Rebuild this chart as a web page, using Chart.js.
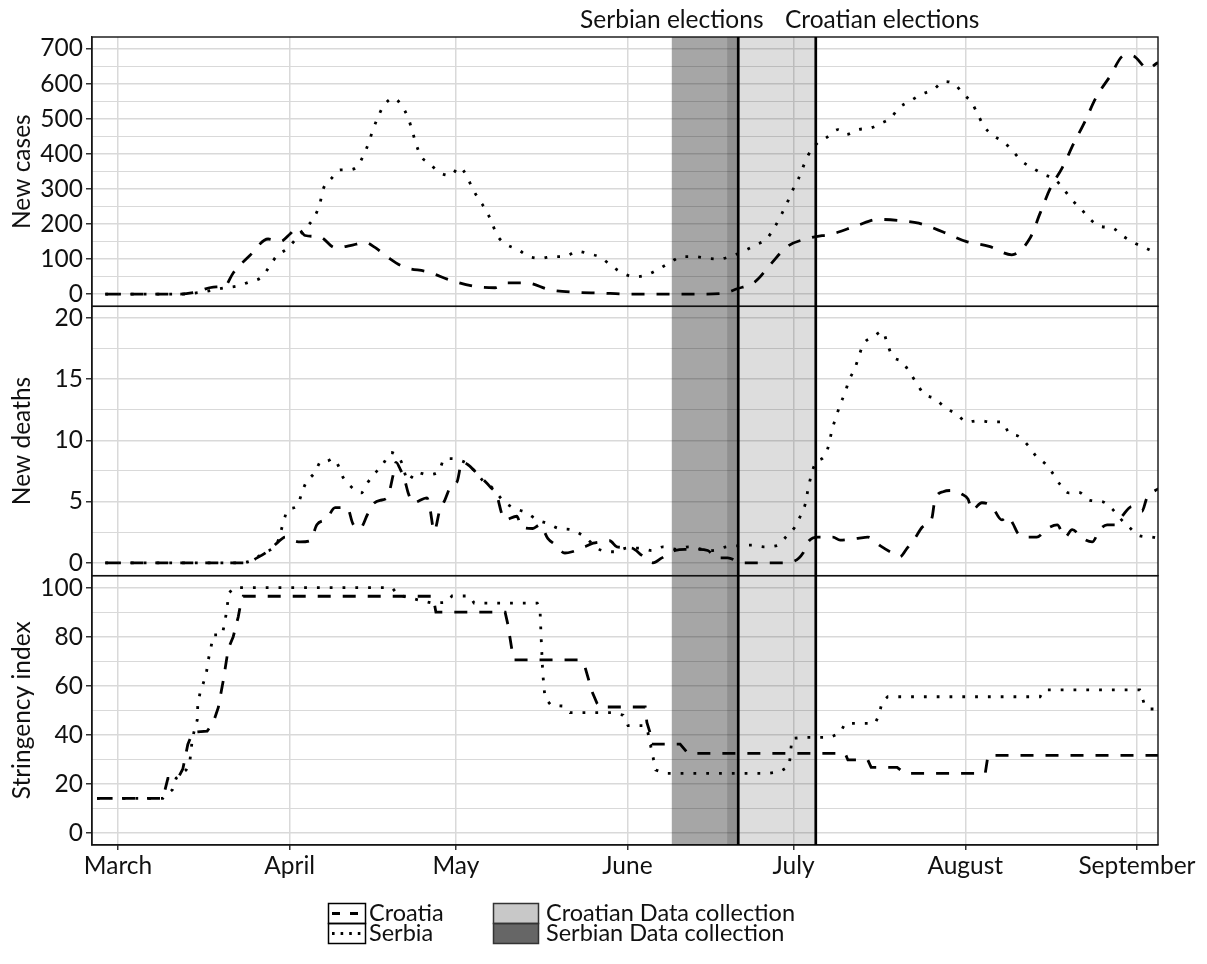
<!DOCTYPE html>
<html>
<head>
<meta charset="utf-8">
<script src="https://cdn.jsdelivr.net/npm/chart.js@4.4.1/dist/chart.umd.min.js"></script>
<style>
html,body{margin:0;padding:0;background:#fff;}
#wrap{position:relative;width:1207px;height:964px;}
canvas{display:block;}
</style>
</head>
<body>
<div id="wrap"><canvas id="c" width="1207" height="964" style="width:1207px;height:964px"></canvas></div>
<script>
// x values are days counted from 1 March 2020 (0 = 1 March)
const monthTickDays = [0, 31, 61, 92, 122, 153, 184];
const monthLabels = ['March', 'April', 'May', 'June', 'July', 'August', 'September'];

const casesMajorTicks = [0, 100, 200, 300, 400, 500, 600, 700];
const casesMinorTicks = [50, 150, 250, 350, 450, 550, 650];
const deathsMajorTicks = [0, 5, 10, 15, 20];
const deathsMinorTicks = [2.5, 7.5, 12.5, 17.5];
const stringencyMajorTicks = [0, 20, 40, 60, 80, 100];
const stringencyMinorTicks = [10, 30, 50, 70, 90];

const electionDays = [112, 126];            // Serbian 21 June, Croatian 5 July
const electionLabels = ['Serbian elections', 'Croatian elections'];
const serbianCollection = [100, 112];       // 9 June - 21 June
const croatianCollection = [110, 126];      // 19 June - 5 July

const croatiaCasesDays = [-2.3,11.2,13.9,17.2,19.3,20.8,23.8,27.1,29.3,31.1,32.3,33.8,36.5,39.2,41.9,44.6,46.4,48.8,51.5,56.0,60.3,64.8,68.1,70.2,73.7,78.0,82.7,87.0,92.1,105.1,109.2,111.8,115.0,117.9,120.8,125.0,129.1,133.4,137.2,140.8,144.6,149.0,153.1,157.3,161.4,164.7,166.5,168.3,170.5,172.6,174.6,176.6,179.1,181.7,183.1,186.0,187.8,189.2];
const croatiaCases = [0,0,5,20,23,60,110,157,150,172,190,167,163,132,138,147,133,104,78,63,38,21,18,32,32,12,5,3,0,0,2,15,35,86,135,160,172,195,213,210,202,177,150,136,112,160,230,300,360,430,492,560,620,680,680,643,660,665];

const serbiaCasesDays = [-2.3,11.7,14.8,19.3,21.5,23.8,26.0,27.3,28.7,30.5,32.3,34.3,35.6,36.5,37.0,38.5,40.1,41.5,43.2,44.4,45.3,46.0,46.9,47.9,49.8,51.3,52.4,53.1,53.8,54.7,56.2,58.0,60.1,61.6,63.0,63.9,65.2,66.5,67.5,68.4,70.1,72.2,74.2,76.4,78.5,80.7,82.9,85.0,87.2,89.2,91.2,93.4,95.5,97.7,99.9,101.8,104.0,106.4,108.5,110.9,112.9,115.2,117.2,118.5,119.7,120.8,121.7,122.8,123.7,124.6,126.2,128.0,130.0,131.5,133.6,135.8,137.8,139.6,141.0,143.0,145.0,147.2,149.2,151.1,152.6,154.2,155.3,156.4,158.0,160.0,161.6,163.2,165.2,167.2,169.2,170.8,172.3,173.9,175.5,177.3,179.5,181.5,183.5,185.6,187.6,189.2];
const serbiaCases = [0,0,5,18,23,35,49,78,109,129,160,195,224,261,297,329,354,354,364,398,433,467,503,535,559,535,502,467,429,393,373,347,338,362,336,304,269,238,204,169,142,127,107,102,107,107,122,115,104,79,59,49,55,72,92,107,107,102,100,109,122,140,159,189,224,259,292,326,362,395,429,447,469,455,469,473,487,503,531,550,569,583,606,598,571,545,511,478,452,433,407,379,359,341,327,298,268,243,214,193,189,165,146,131,117,110];

const croatiaDeathsDays = [-2.3,23.3,25.1,26.9,28.7,30.2,31.1,32.9,34.7,35.9,37.7,39.2,41.4,42.4,43.7,45.0,45.9,47.3,48.6,49.7,50.2,51.0,51.8,52.4,53.3,55.8,56.3,57.1,58.1,59.0,60.3,61.2,62.1,63.2,64.8,67.2,68.4,69.3,69.9,72.0,72.9,74.9,76.2,77.6,78.9,80.7,82.0,84.3,85.8,87.0,88.8,90.1,92.8,94.6,96.6,98.2,100.6,102.4,104.7,106.5,108.2,110.1,112.7,119.5,121.9,123.7,124.6,126.4,129.1,130.4,133.6,135.4,137.6,139.4,141.2,142.5,143.9,145.2,146.1,147.0,147.5,149.0,150.6,152.4,153.5,154.2,156.0,157.8,159.6,160.7,161.6,162.5,163.8,165.9,167.8,169.6,171.0,172.3,174.2,175.9,177.3,178.6,180.0,181.3,183.1,184.9,185.8,187.3,189.2];
const croatiaDeaths = [0,0,0.4,0.9,1.6,2.1,1.9,1.7,1.8,3.1,3.6,4.5,4.5,3.2,2.8,3.9,4.7,5.1,5.3,7.2,8.2,7.6,6.7,5.7,4.9,5.3,4.5,2.6,4.3,5.1,6.4,6.6,8.2,8.0,7.3,6.2,5.5,4.0,3.5,3.8,2.9,2.8,3.1,2.0,1.5,0.8,0.9,1.3,1.6,1.7,1.8,1.3,1.2,0.6,0.0,0.4,1.0,1.1,1.1,1.0,0.4,0.4,0,0,0.1,0.8,1.7,2.1,2.1,1.85,2.0,2.1,1.4,0.9,0.5,1.2,2.0,2.9,3.2,3.7,5.1,5.8,5.9,5.6,5.2,4.3,4.9,4.6,3.5,3.8,3.2,2.4,2.1,2.1,2.8,3.1,2.1,2.7,2.0,1.7,2.7,3.1,3.1,3.8,4.6,4.2,5.3,5.9,6.3];

const serbiaDeathsDays = [-2.3,22.0,24.2,26.2,28.7,30.7,32.3,33.2,33.9,35.6,36.7,37.7,38.8,39.7,40.6,42.1,43.9,45.0,46.4,47.9,49.3,51.1,52.4,53.8,55.8,57.8,59.0,60.3,61.4,63.0,64.8,66.1,67.4,69.5,71.3,73.7,75.7,77.6,79.6,81.8,84.0,87.4,89.7,91.9,94.3,96.4,98.4,100.9,103.1,105.5,107.4,109.8,112.1,114.5,116.6,119.0,120.6,122.2,123.3,124.1,124.6,125.1,125.8,127.7,128.4,128.9,129.6,130.4,131.3,132.0,133.1,133.8,134.7,136.3,138.1,138.9,139.8,141.6,143.0,144.3,145.5,147.5,149.3,151.5,153.3,155.5,157.6,159.6,160.9,162.7,164.3,165.8,167.4,168.8,170.1,171.7,173.5,175.5,177.7,179.5,181.0,182.6,184.5,186.6,189.2];
const serbiaDeaths = [0,0,0.2,0.8,1.6,4.3,4.6,5.7,6.5,7.4,8.3,8.3,8.5,8.0,7.0,6.2,5.7,6.5,7.3,8.1,9.0,8.3,6.7,7.4,7.2,7.4,8.5,8.5,8.4,8.1,7.3,6.6,6.2,5.1,4.5,4.1,3.5,3.2,2.8,2.7,2.2,1.0,0.9,1.2,1.2,1.0,1.3,1.1,1.3,1.1,1.0,1.3,1.4,1.45,1.3,1.4,2.1,2.9,3.9,4.8,6.0,7.0,8.0,8.8,9.7,10.8,11.8,12.9,13.9,14.9,15.9,16.9,17.9,18.4,18.9,17.9,16.9,16.4,15.5,14.6,13.8,13.4,12.7,12.1,11.5,11.6,11.5,11.5,10.6,10.3,9.6,8.7,8.1,7.3,6.4,5.7,5.75,5.1,5.0,4.4,3.6,2.9,2.2,2.1,1.8];

const croatiaStringencyDays = [-3.8,8.1,9.0,10.8,11.7,12.6,13.5,16.1,17.2,18.1,19.0,19.9,20.8,21.7,22.2,22.6,56.9,57.4,69.9,70.4,71.1,71.5,83.4,84.3,85.6,86.5,87.0,95.2,95.5,96.1,96.4,101.5,102.9,131.3,131.8,135.4,136.0,140.7,142.1,156.6,157.1,189.2];
const croatiaStringency = [14,14,22.2,22.2,26,36,41,41.5,45,51,62,75,80,88,94,96.5,96.5,90,90,85,75,70.5,70.5,67.8,57.6,52.8,51.3,51.3,45,40.7,36.2,36.2,32.4,32.4,29.7,29.7,26.7,26.7,24.2,24.2,31.6,31.6];

const serbiaStringencyDays = [-3.8,8.1,9.0,9.8,10.5,12.3,13.0,13.4,13.7,14.3,14.4,14.8,15.9,16.3,16.8,17.2,18.8,19.3,19.7,20.0,20.9,49.5,50.5,56.7,59.4,60.3,63.5,64.3,75.7,76.2,76.4,76.7,77.1,78.2,80.3,81.6,89.2,91.2,92.1,95.2,95.7,96.6,97.1,98.8,117.4,119.5,121.2,121.7,124.1,128.6,130.4,131.3,136.7,137.4,138.0,139.0,166.5,167.2,184.5,185.4,186.3,189.2];
const serbiaStringency = [14,14,16,17.5,22.3,25.6,29.7,38,41,46,52,57,64.4,70.5,75.8,80.7,80.7,86,92,97.7,100,100,97,93.7,94,96.6,96.6,93.7,93.7,91.3,80,65,55,52,51.7,49,49,48,43.7,43.7,40.7,31,25.6,24.2,24.2,24.9,27.2,38.5,38.9,38.9,40.8,44.6,44.6,48,53.5,55.5,55.5,58.3,58.3,52,50.5,50.5];

const pts = (xs, ys) => xs.map((d, i) => ({x: d, y: ys[i]}));

const FONT = 'Lato';
const AXIS_SIZE = 24.5;
const LEGEND_SIZE = 23.5;
Chart.defaults.font.family = FONT;
Chart.defaults.font.size = AXIS_SIZE;
Chart.defaults.color = '#111';

const GRID = '#d9d9d9';
const DASH = [13, 12];
const DOT = [2.8, 10];

function lineDs(label, data, axis, dash, smooth) {
  return {
    label, data, yAxisID: axis,
    borderColor: '#000', backgroundColor: '#000',
    borderWidth: 2.8, borderDash: dash, borderCapStyle: 'butt',
    pointRadius: 0, fill: false,
    tension: 0, cubicInterpolationMode: smooth ? 'monotone' : 'default'
  };
}

function yScale(min, max, major, minor, title) {
  const all = major.concat(minor).sort((a, b) => a - b);
  return {
    type: 'linear', position: 'left', stack: 'panels', stackWeight: 1,
    min, max,
    afterBuildTicks: s => { s.ticks = all.map(v => ({value: v})); },
    afterFit: s => { s.width = 92; },
    ticks: {
      padding: 3, autoSkip: false, color: '#111',
      callback: v => (major.includes(v) ? String(v) : '')
    },
    grid: {
      color: GRID,
      lineWidth: c => (c.tick && major.includes(c.tick.value) ? 1.5 : 1.1),
      tickLength: 6,
      tickColor: c => (c.tick && major.includes(c.tick.value) ? '#333' : 'rgba(0,0,0,0)'),
      drawTicks: true
    },
    border: {display: true, color: '#222', width: 1.3},
    title: {display: true, text: title, color: '#111', font: {size: AXIS_SIZE}, padding: {top: 7, bottom: 0}}
  };
}

const overlayPlugin = {
  id: 'overlay',
  afterDatasetsDraw(chart) {
    const {ctx, chartArea: a, scales} = chart;
    const x = scales.x;
    ctx.save();
    const sx0 = x.getPixelForValue(serbianCollection[0]);
    const sx1 = x.getPixelForValue(serbianCollection[1]);
    ctx.fillStyle = 'rgba(0,0,0,0.35)';
    ctx.fillRect(sx0, a.top, sx1 - sx0, a.bottom - a.top);
    const cx0 = x.getPixelForValue(croatianCollection[0]);
    const cx1 = x.getPixelForValue(croatianCollection[1]);
    ctx.fillStyle = 'rgba(0,0,0,0.135)';
    ctx.fillRect(cx0, a.top, cx1 - cx0, a.bottom - a.top);

    // panel frames
    ctx.lineWidth = 1.4;
    ctx.strokeStyle = '#111';
    ['yCases', 'yDeaths', 'yStringency'].forEach(id => {
      const s = scales[id];
      ctx.strokeRect(a.left, s.top, a.right - a.left, s.bottom - s.top);
    });

    // election lines
    ctx.strokeStyle = '#000';
    ctx.lineWidth = 2.7;
    electionDays.forEach(d => {
      const px = x.getPixelForValue(d);
      ctx.beginPath(); ctx.moveTo(px, a.top); ctx.lineTo(px, a.bottom); ctx.stroke();
    });
    ctx.restore();
  },
  afterDraw(chart) {
    const {ctx, scales} = chart;
    const x = scales.x;
    ctx.save();
    ctx.fillStyle = '#111';
    ctx.font = AXIS_SIZE + 'px ' + FONT;
    ctx.textBaseline = 'alphabetic';
    ctx.textAlign = 'center';
    ctx.fillText(electionLabels[0], x.getPixelForValue(electionDays[0] - 12), 28);
    ctx.fillText(electionLabels[1], x.getPixelForValue(electionDays[1] + 12), 28);

    // legend
    ctx.font = LEGEND_SIZE + 'px ' + FONT;
    ctx.textAlign = 'left';
    ctx.lineWidth = 1.5;
    ctx.strokeStyle = '#000';
    ctx.strokeRect(328.5, 903.5, 37, 20);
    ctx.strokeRect(328.5, 923.5, 37, 20);
    ctx.lineWidth = 3;
    ctx.setLineDash([8, 10]);
    ctx.beginPath(); ctx.moveTo(332, 913.5); ctx.lineTo(362, 913.5); ctx.stroke();
    ctx.setLineDash([2.6, 6]);
    ctx.beginPath(); ctx.moveTo(332, 933.5); ctx.lineTo(363, 933.5); ctx.stroke();
    ctx.setLineDash([]);
    ctx.fillText('Croatia', 369, 921);
    ctx.fillText('Serbia', 369, 941);

    ctx.fillStyle = '#c8c8c8';
    ctx.fillRect(493, 903, 45, 20);
    ctx.fillStyle = '#666666';
    ctx.fillRect(493, 923, 45, 20);
    ctx.lineWidth = 1.5;
    ctx.strokeStyle = '#333';
    ctx.strokeRect(493.5, 903.5, 45, 20);
    ctx.strokeRect(493.5, 923.5, 45, 20);
    ctx.fillStyle = '#111';
    ctx.fillText('Croatian Data collection', 546, 921);
    ctx.fillText('Serbian Data collection', 546, 941);
    ctx.restore();
  }
};

new Chart(document.getElementById('c'), {
  type: 'line',
  data: {
    datasets: [
      lineDs('Croatia', pts(croatiaCasesDays, croatiaCases), 'yCases', DASH, true),
      lineDs('Serbia', pts(serbiaCasesDays, serbiaCases), 'yCases', DOT, true),
      lineDs('Croatia', pts(croatiaDeathsDays, croatiaDeaths), 'yDeaths', DASH, true),
      lineDs('Serbia', pts(serbiaDeathsDays, serbiaDeaths), 'yDeaths', DOT, true),
      lineDs('Croatia', pts(croatiaStringencyDays, croatiaStringency), 'yStringency', DASH, false),
      lineDs('Serbia', pts(serbiaStringencyDays, serbiaStringency), 'yStringency', DOT, false)
    ]
  },
  options: {
    responsive: false,
    devicePixelRatio: 1,
    animation: false,
    layout: {padding: {left: 0, top: 37, right: 49, bottom: 79}},
    plugins: {legend: {display: false}, tooltip: {enabled: false}},
    scales: {
      x: {
        type: 'linear', position: 'bottom', min: -4.7, max: 187.8,
        afterBuildTicks: s => { s.ticks = monthTickDays.map(v => ({value: v})); },
        afterFit: s => { s.height = 40; },
        ticks: {
          autoSkip: false, maxRotation: 0, padding: 1, color: '#111',
          callback: (v, i) => monthLabels[i]
        },
        grid: {color: GRID, lineWidth: 1.5, tickLength: 5, tickColor: '#333'},
        border: {display: true, color: '#222', width: 1.3}
      },
      yStringency: yScale(-5.0, 104.9, stringencyMajorTicks, stringencyMinorTicks, 'Stringency index'),
      yDeaths: yScale(-1.05, 20.93, deathsMajorTicks, deathsMinorTicks, 'New deaths'),
      yCases: yScale(-35, 733, casesMajorTicks, casesMinorTicks, 'New cases')
    }
  },
  plugins: [overlayPlugin]
});
</script>
</body>
</html>
